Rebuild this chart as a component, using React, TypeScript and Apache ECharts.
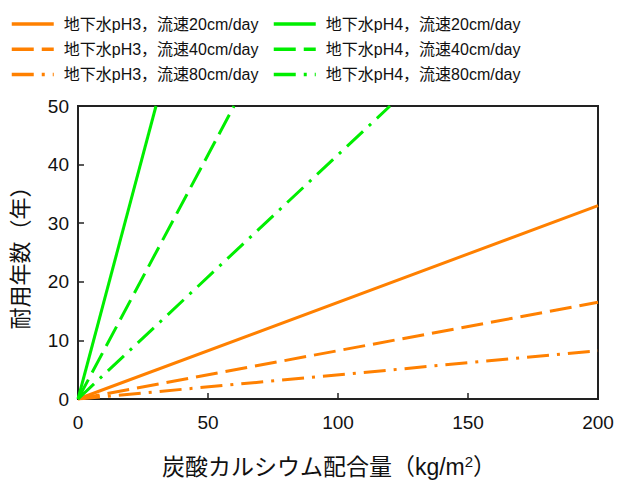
import React, { useEffect, useRef } from "react";
import * as echarts from "echarts";

const FONT = "'Liberation Sans', Arial, 'Noto Sans CJK JP', sans-serif";

const seriesNames = [
  "地下水pH3，流速20cm/day",
  "地下水pH3，流速40cm/day",
  "地下水pH3，流速80cm/day",
  "地下水pH4，流速20cm/day",
  "地下水pH4，流速40cm/day",
  "地下水pH4，流速80cm/day",
];
// end points of each straight line (start at origin)
const startX = [0, 0, 0, 0, 0, 0];
const startY = [0, 0, 0, 0, 0, 0];
const endX = [200, 200, 200, 30, 60, 120];
const endY = [33, 16.5, 8.25, 50, 50, 50];
const seriesColors = ["#ff8000", "#ff8000", "#ff8000", "#00ee00", "#00ee00", "#00ee00"];
const dashTypes: any[] = ["solid", [22, 8], [22, 8, 3, 8], "solid", [22, 8], [22, 8, 3, 8]];

const xTicks = [0, 50, 100, 150, 200];
const yTicks = [0, 10, 20, 30, 40, 50];

export default function App() {
  const ref = useRef<HTMLDivElement>(null);
  useEffect(() => {
    if (!ref.current) return;
    const chart = echarts.init(ref.current, null, { renderer: "svg" });
    const series = seriesNames.map((name, i) => ({
      name,
      type: "line",
      data: [
        [startX[i], startY[i]],
        [endX[i], endY[i]],
      ],
      showSymbol: false,
      symbol: "none",
      color: seriesColors[i],
      lineStyle: { color: seriesColors[i], width: 3, type: dashTypes[i], cap: "butt" },
      z: 3,
    }));
    const legendCommon = {
      orient: "vertical",
      top: 16,
      padding: 0,
      itemWidth: 42,
      itemHeight: 2,
      itemGap: 9.2,
      itemStyle: { opacity: 0 },
      lineStyle: { width: 3.5 },
      textStyle: { fontFamily: FONT, fontSize: 16, color: "#111", padding: [0, 0, 0, 5] },
    };
    chart.setOption({
      animation: false,
      textStyle: { fontFamily: FONT },
      legend: [
        { ...legendCommon, left: 10, data: seriesNames.slice(0, 3) },
        { ...legendCommon, left: 272, data: seriesNames.slice(3, 6) },
      ],
      grid: {
        left: 78,
        right: 34,
        top: 106,
        bottom: 82,
        outerBoundsMode: "none",
        containLabel: false,
        show: true,
        borderColor: "#222",
        borderWidth: 2,
        backgroundColor: "transparent",
      },
      xAxis: {
        type: "value",
        min: xTicks[0],
        max: xTicks[xTicks.length - 1],
        interval: 50,
        name: "{a|炭酸カルシウム配合量（kg/m}{s|2}{a|）}",
        nameLocation: "middle",
        nameGap: 55,
        nameTextStyle: {
          padding: [0, 18, 0, 0],
          rich: {
            a: { fontFamily: FONT, fontSize: 23, color: "#111" },
            s: { fontFamily: FONT, fontSize: 15, color: "#111", verticalAlign: "top", padding: [0, 0, 10, 0] },
          },
        },
        axisLine: { show: true, lineStyle: { color: "#222", width: 2 } },
        axisTick: { show: true, inside: true, length: 6, lineStyle: { color: "#222", width: 1.5 } },
        axisLabel: { fontFamily: FONT, fontSize: 19, color: "#111", margin: 14 },
        splitLine: { show: false },
      },
      yAxis: {
        type: "value",
        min: yTicks[0],
        max: yTicks[yTicks.length - 1],
        interval: 10,
        name: "耐用年数（年）",
        nameLocation: "middle",
        nameGap: 47,
        nameRotate: 90,
        nameTextStyle: { fontFamily: FONT, fontSize: 22, color: "#111" },
        axisLine: { show: true, lineStyle: { color: "#222", width: 2 } },
        axisTick: { show: true, inside: true, length: 6, lineStyle: { color: "#222", width: 1.5 } },
        axisLabel: { fontFamily: FONT, fontSize: 19, color: "#111", margin: 9 },
        splitLine: { show: false },
      },
      series,
    });
    return () => chart.dispose();
  }, []);
  return <div ref={ref} style={{ width: 632, height: 481, position: "absolute", left: 0, top: 0 }} />;
}
